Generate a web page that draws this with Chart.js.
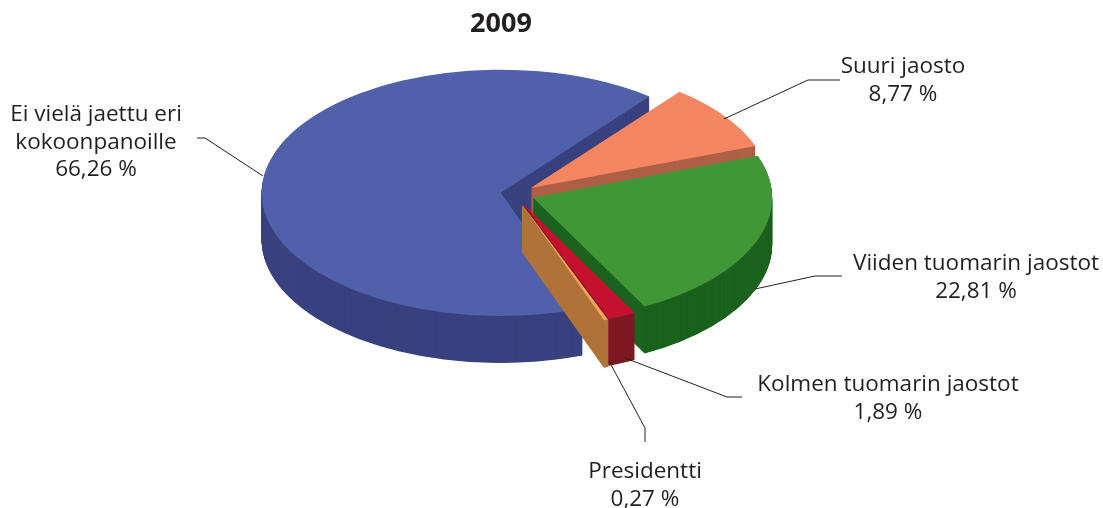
<!DOCTYPE html>
<html><head><meta charset="utf-8">
<style>html,body{margin:0;padding:0;background:#fff}#w{width:1103px;height:508px;position:relative}</style>
<script src="https://cdn.jsdelivr.net/npm/chart.js@4"></script>
</head><body><div id="w"><canvas id="c" width="1103" height="508"></canvas></div>
<script>
const title = '2009';
const categories = ['Suuri jaosto','Viiden tuomarin jaostot','Kolmen tuomarin jaostot','Presidentti','Ei vielä jaettu eri kokoonpanoille'];
const values = [8.77,22.81,1.89,0.27,66.26];
const topColors = ['#F68662','#419637','#C5112F','#F7A35C','#5160AA'];
const wallColors = ['#AE6047','#1B621E','#7E1A22','#B0743A','#39427F'];
const explode = [20,20,21,22,14];
const paintOrder = [4,0,1,2,3];
const labelLines = [['Suuri jaosto','8,77 %'],['Viiden tuomarin jaostot','22,81 %'],['Kolmen tuomarin jaostot','1,89 %'],['Presidentti','0,27 %'],['Ei vielä jaettu eri','kokoonpanoille','66,26 %']];
const labelAnchor = [[903,73],[976,270],[888,391],[645,478],[96,121]];
const leaders = [
 [[840,80],[808,80],[724,119]],
 [[842,276],[815,276],[755,289]],
 [[742,397],[727,397],[625,358]],
 [[645,442],[645,428],[609,361]],
 [[197,138],[205,138],[263,176]]
];
const view = {cx:514.5, cy:194, squash:0.515, depth:47, radius:239};
const font = '"Open Sans"';

const pie3d = {
  id:'pie3d',
  beforeDatasetDraw(chart,args){
    const ctx = chart.ctx, arcs = args.meta.data;
    const place = (el,i,d)=>{
      const mid = (el.startAngle+el.endAngle)/2;
      ctx.translate(view.cx, view.cy+d);
      ctx.scale(1,view.squash);
      ctx.translate(Math.cos(mid)*explode[i]-el.x, Math.sin(mid)*explode[i]-el.y);
    };
    for(const i of paintOrder){
      const el = arcs[i], base = el.options;
      const thin = values[i] < 1;
      el.options = Object.assign({}, base, {backgroundColor:wallColors[i], borderColor:wallColors[i], borderWidth:thin?1.2:0});
      for(let d=view.depth;d>=1;d-=0.5){ ctx.save(); place(el,i,d); el.draw(ctx); ctx.restore(); }
      el.options = Object.assign({}, base, {backgroundColor:topColors[i], borderWidth:0});
      ctx.save(); place(el,i,0); el.draw(ctx); ctx.restore();
      el.options = base;
    }
    return false;
  },
  afterDraw(chart){
    const ctx = chart.ctx;
    ctx.save();
    ctx.strokeStyle='#231F20'; ctx.lineWidth=1;
    for(const l of leaders){
      ctx.beginPath(); l.forEach((p,j)=> j?ctx.lineTo(p[0],p[1]):ctx.moveTo(p[0],p[1])); ctx.stroke();
    }
    ctx.fillStyle='#231F20'; ctx.textAlign='center'; ctx.textBaseline='alphabetic';
    ctx.font='22.5px '+font;
    labelLines.forEach((ls,i)=>ls.forEach((t,j)=>ctx.fillText(t,labelAnchor[i][0],labelAnchor[i][1]+j*27.5)));
    ctx.restore();
  }
};

new Chart(document.getElementById('c'),{
  type:'pie',
  data:{labels:categories,datasets:[{data:values,backgroundColor:topColors,borderWidth:0}]},
  options:{
    responsive:false,animation:false,rotation:38.5,radius:view.radius,
    layout:{padding:{left:0,right:101,top:0,bottom:0}},
    plugins:{legend:{display:false},tooltip:{enabled:false},
      title:{display:true,text:title,color:'#231F20',font:{family:font,size:27,weight:'bold'},padding:{top:8,bottom:8}}}
  },
  plugins:[pie3d]
});
</script></body></html>
